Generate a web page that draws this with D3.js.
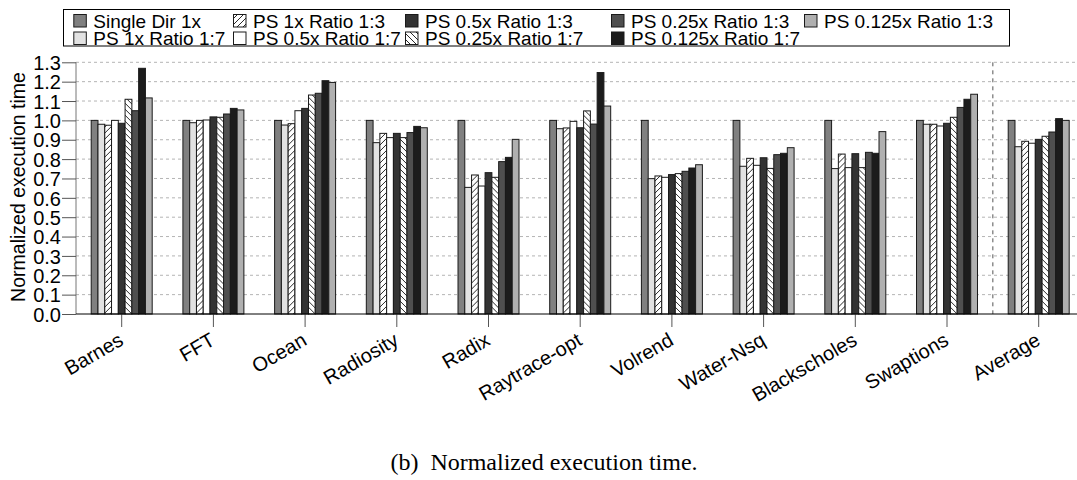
<!DOCTYPE html>
<html>
<head>
<meta charset="utf-8">
<script src="https://cdn.jsdelivr.net/npm/d3@7"></script>
<style>
  html, body { margin: 0; padding: 0; background: #fff; }
  svg { display: block; }
</style>
</head>
<body>
<svg id="chart" width="1077" height="480"></svg>
<script>
// ---------------- DATA ----------------
const categories = ["Barnes", "FFT", "Ocean", "Radiosity", "Radix", "Raytrace-opt",
  "Volrend", "Water-Nsq", "Blackscholes", "Swaptions", "Average"];

const seriesNames = ["Single Dir 1x", "PS 1x Ratio 1:7", "PS 1x Ratio 1:3",
  "PS 0.5x Ratio 1:7", "PS 0.5x Ratio 1:3", "PS 0.25x Ratio 1:7",
  "PS 0.25x Ratio 1:3", "PS 0.125x Ratio 1:7", "PS 0.125x Ratio 1:3"];

const singleDir1x      = [1.000, 1.000, 1.000, 1.000, 1.000, 1.000, 1.000, 1.000, 1.000, 1.000, 1.000];
const ps1xRatio17      = [0.980, 0.988, 0.976, 0.885, 0.654, 0.957, 0.699, 0.763, 0.751, 0.980, 0.864];
const ps1xRatio13      = [0.975, 1.000, 0.983, 0.933, 0.718, 0.961, 0.713, 0.804, 0.826, 0.980, 0.892];
const ps05xRatio17     = [1.000, 1.002, 1.050, 0.911, 0.661, 0.995, 0.706, 0.768, 0.756, 0.971, 0.882];
const ps05xRatio13     = [0.985, 1.018, 1.062, 0.933, 0.730, 0.962, 0.720, 0.807, 0.828, 0.985, 0.902];
const ps025xRatio17    = [1.109, 1.016, 1.131, 0.911, 0.706, 1.049, 0.725, 0.752, 0.756, 1.016, 0.918];
const ps025xRatio13    = [1.050, 1.033, 1.140, 0.937, 0.787, 0.981, 0.737, 0.823, 0.835, 1.067, 0.940];
const ps0125xRatio17   = [1.269, 1.062, 1.205, 0.969, 0.809, 1.247, 0.754, 0.830, 0.830, 1.109, 1.009];
const ps0125xRatio13   = [1.116, 1.054, 1.196, 0.962, 0.902, 1.074, 0.771, 0.859, 0.942, 1.135, 1.000];

const seriesValues = [singleDir1x, ps1xRatio17, ps1xRatio13, ps05xRatio17, ps05xRatio13,
  ps025xRatio17, ps025xRatio13, ps0125xRatio17, ps0125xRatio13];

const yTicks = [0.0, 0.1, 0.2, 0.3, 0.4, 0.5, 0.6, 0.7, 0.8, 0.9, 1.0, 1.1, 1.2, 1.3];

// legend order (as displayed, row-major)
const legendRow1 = ["Single Dir 1x", "PS 1x Ratio 1:3", "PS 0.5x Ratio 1:3", "PS 0.25x Ratio 1:3", "PS 0.125x Ratio 1:3"];
const legendRow2 = ["PS 1x Ratio 1:7", "PS 0.5x Ratio 1:7", "PS 0.25x Ratio 1:7", "PS 0.125x Ratio 1:7"];

const caption = "(b)\u00A0 Normalized execution time.";
const yLabel = "Normalized execution time";

// ---------------- STYLE ----------------
const SANS = '"Liberation Sans", Arial, Helvetica, sans-serif';
const SERIF = '"Liberation Serif", "Times New Roman", serif';
const fills = {
  "Single Dir 1x": "#808080",
  "PS 1x Ratio 1:7": "#e2e2e2",
  "PS 1x Ratio 1:3": "url(#hatchF)",
  "PS 0.5x Ratio 1:7": "#ffffff",
  "PS 0.5x Ratio 1:3": "#333333",
  "PS 0.25x Ratio 1:7": "url(#hatchB)",
  "PS 0.25x Ratio 1:3": "#4f4f4f",
  "PS 0.125x Ratio 1:7": "#1c1c1c",
  "PS 0.125x Ratio 1:3": "#b0b0b0"
};

const svg = d3.select("#chart");
const W = 1077, H = 480;
const plotLeft = 76, plotTop = 62.3, plotBottom = 314;
const slot = 91.7;

// patterns
const defs = svg.append("defs");
function hatch(id, forward) {
  const p = defs.append("pattern").attr("id", id).attr("patternUnits", "userSpaceOnUse")
    .attr("width", 6).attr("height", 6);
  p.append("rect").attr("width", 6).attr("height", 6).attr("fill", "#fff");
  const d = forward ? "M-1,7 L7,-1 M-4,4 L4,-4 M2,10 L10,2" : "M-1,-1 L7,7 M-4,2 L4,10 M2,-4 L10,4";
  p.append("path").attr("d", d).attr("stroke", "#111").attr("stroke-width", 0.9);
}
hatch("hatchF", true);
hatch("hatchB", false);

// scales
const x0 = d3.scaleBand().domain(categories)
  .range([plotLeft - 0.15, plotLeft - 0.15 + slot * categories.length]).padding(0);
const bw = x0.bandwidth();
const x1 = d3.scaleBand().domain(seriesNames).range([bw * 0.1675, bw * 0.8325]).padding(0);
const y = d3.scaleLinear().domain([0, 1.3]).range([plotBottom, plotTop]);

// gridlines
svg.append("g").selectAll("line").data(yTicks.filter(d => d > 0)).join("line")
  .attr("x1", plotLeft).attr("x2", W)
  .attr("y1", d => y(d)).attr("y2", d => y(d))
  .attr("stroke", "#b4b4b4").attr("stroke-width", 1).attr("stroke-dasharray", "3,3");

// separator before Average
const sepX = (x0("Swaptions") + x0("Average") + bw) / 2;
svg.append("line").attr("x1", sepX).attr("x2", sepX).attr("y1", plotTop).attr("y2", plotBottom)
  .attr("stroke", "#555").attr("stroke-width", 1).attr("stroke-dasharray", "4,4");

// bars
const groups = svg.append("g").selectAll("g").data(categories).join("g")
  .attr("transform", d => `translate(${x0(d)},0)`);
groups.selectAll("rect").data((c, ci) => seriesNames.map((s, si) => ({ s, v: seriesValues[si][ci] })))
  .join("rect")
  .attr("x", d => x1(d.s))
  .attr("width", x1.bandwidth())
  .attr("y", d => y(d.v))
  .attr("height", d => y(0) - y(d.v))
  .attr("fill", d => fills[d.s])
  .attr("stroke", "#1a1a1a").attr("stroke-width", 1);

// y axis
const yAxis = d3.axisLeft(y).tickValues(yTicks).tickFormat(d3.format(".1f")).tickSize(14).tickPadding(1);
const gy = svg.append("g").attr("transform", `translate(${plotLeft},0)`).call(yAxis);
gy.attr("font-family", SANS).attr("font-size", 20);
gy.select(".domain").attr("stroke", "#777").attr("d", `M0,${plotTop}V${plotBottom}`);
gy.selectAll(".tick line").attr("stroke", "#555");
gy.selectAll(".tick text").attr("fill", "#000").attr("dy", "0.36em");

// x axis
const xAxis = d3.axisBottom(x0).tickSize(13).tickFormat("");
const gx = svg.append("g").attr("transform", `translate(0,${plotBottom})`).call(xAxis);
gx.select(".domain").remove();
gx.selectAll(".tick line").attr("stroke", "#555");
svg.append("line").attr("x1", plotLeft).attr("x2", W).attr("y1", plotBottom).attr("y2", plotBottom)
  .attr("stroke", "#000").attr("stroke-width", 1);

// x labels
svg.append("g").selectAll("text").data(categories).join("text")
  .attr("transform", d => `translate(${x0(d) + bw / 2 + 3},${plotBottom + 30}) rotate(-30)`)
  .attr("text-anchor", "end").style("font-family", SANS).style("font-size", "20px").attr("fill", "#000")
  .text(d => d);

// y label
svg.append("text").attr("transform", `translate(25,187) rotate(-90)`)
  .attr("text-anchor", "middle").style("font-family", SANS).style("font-size", "19.5px")
  .attr("fill", "#000").text(yLabel);

// legend
svg.append("rect").attr("x", 63.5).attr("y", 9.5).attr("width", 946).attr("height", 36.5)
  .attr("fill", "#fff").attr("stroke", "#000").attr("stroke-width", 1);
const legendCols = [73.3, 233, 405, 611, 804];
function legendRow(names, yc) {
  const g = svg.append("g");
  names.forEach((n, i) => {
    g.append("rect").attr("x", legendCols[i] + 0.5).attr("y", yc - 6.5).attr("width", 12.5).attr("height", 12.5)
      .attr("fill", fills[n]).attr("stroke", "#1a1a1a").attr("stroke-width", 1);
    g.append("text").attr("x", legendCols[i] + 20).attr("y", yc + 6.5)
      .style("font-family", SANS).style("font-size", "19px")
      .attr("fill", "#000").text(n);
  });
}
legendRow(legendRow1, 21);
legendRow(legendRow2, 38.5);

// caption
svg.append("text").attr("x", 544).attr("y", 470).attr("text-anchor", "middle")
  .style("font-family", SERIF).style("font-size", "24px")
  .attr("fill", "#000").text(caption);
</script>
</body>
</html>
